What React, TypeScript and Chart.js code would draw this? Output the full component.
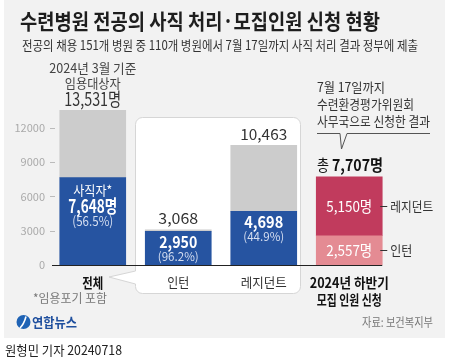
import { useEffect, useRef } from "react";
import { Chart, registerables } from "chart.js";

Chart.register(...registerables);

const categories = ["전체", "인턴", "레지던트", "2024년 하반기 모집 인원 신청"];
const totals = [13531, 3068, 10463, null];
const resigned = [7648, 2950, 4698, null];
const resignedPct = ["56.5%", "96.2%", "44.9%"];
const applyIntern = [null, null, null, 2557];
const applyResident = [null, null, null, 5150];
const applyTotal = 7707;
const yTicks = [0, 3000, 6000, 9000, 12000];

const remainder = totals.map((t, i) => (t == null || resigned[i] == null ? null : (t as number) - (resigned[i] as number)));

const FONT = '"Noto Sans CJK KR", "Noto Sans", sans-serif';
const BLUE = "#2654a1";
const GRAY = "#cccccc";
const PINK_D = "#c13b5d";
const PINK_L = "#e48b93";

function fmt(n: number) {
  return n.toLocaleString("en-US");
}

function drawText(
  ctx: CanvasRenderingContext2D,
  s: string,
  x: number,
  y: number,
  size: number,
  color: string,
  opts: { weight?: number; align?: "left" | "center" | "right"; width?: number } = {}
) {
  const { weight = 400, align = "center", width } = opts;
  ctx.save();
  ctx.font = `${weight} ${size}px ${FONT}`;
  ctx.fillStyle = color;
  ctx.textBaseline = "middle";
  ctx.textAlign = "left";
  const w = ctx.measureText(s).width;
  const sx = width && w > 0 ? width / w : 1;
  const left = align === "center" ? x - (w * sx) / 2 : align === "right" ? x - w * sx : x;
  ctx.translate(left, y);
  ctx.scale(sx, 1);
  ctx.fillText(s, 0, 0);
  ctx.restore();
}

const deco = {
  id: "deco",
  beforeDraw(chart: any) {
    const ctx: CanvasRenderingContext2D = chart.ctx;
    ctx.save();
    ctx.fillStyle = "#ffffff";
    ctx.fillRect(0, 0, chart.width, chart.height);
    ctx.fillStyle = "#f2f2f2";
    ctx.fillRect(4, 0, 441, 338);

    // white callout box
    const L = 135.5, T = 117.5, R = 300.5, B = 293.5, r = 7;
    ctx.beginPath();
    ctx.moveTo(L + r, T);
    ctx.lineTo(R - r, T);
    ctx.arcTo(R, T, R, T + r, r);
    ctx.lineTo(R, B - r);
    ctx.arcTo(R, B, R - r, B, r);
    ctx.lineTo(L + r, B);
    ctx.arcTo(L, B, L, B - r, r);
    ctx.lineTo(L, 284);
    ctx.lineTo(109, 277);
    ctx.lineTo(L, 271);
    ctx.lineTo(L, T + r);
    ctx.arcTo(L, T, L + r, T, r);
    ctx.closePath();
    ctx.fillStyle = "#ffffff";
    ctx.fill();
    ctx.strokeStyle = "#d6d6d6";
    ctx.lineWidth = 1;
    ctx.stroke();
    ctx.restore();

    // title & subtitle
    drawText(ctx, "수련병원 전공의 사직 처리·모집인원 신청 현황", 20, 21, 21, "#1e1e1e", { weight: 700, align: "left", width: 360 });
    drawText(ctx, "전공의 채용 151개 병원 중 110개 병원에서 7월 17일까지 사직 처리 결과 정부에 제출", 22, 45, 13, "#333333", { align: "left", width: 396 });

    // footer
    ctx.save();
    ctx.fillStyle = "#1f63b5";
    ctx.beginPath();
    ctx.arc(23.5, 322, 7, 0, Math.PI * 2);
    ctx.fill();
    ctx.strokeStyle = "#ffffff";
    ctx.lineWidth = 1.6;
    ctx.beginPath();
    ctx.moveTo(26, 316.5);
    ctx.quadraticCurveTo(24, 324, 20, 328);
    ctx.stroke();
    ctx.restore();
    drawText(ctx, "연합뉴스", 32, 322, 13, "#1f4f9e", { weight: 700, align: "left", width: 45 });
    drawText(ctx, "자료: 보건복지부", 433, 322, 12, "#777777", { align: "right", width: 71 });
    drawText(ctx, "원형민 기자 20240718", 5, 350, 13, "#222222", { align: "left", width: 117 });
  },
  afterDatasetsDraw(chart: any) {
    const ctx: CanvasRenderingContext2D = chart.ctx;
    const ys = chart.scales.y;
    const y0 = ys.getPixelForValue(0);
    const cx = (i: number) => chart.getDatasetMeta(0).data[i].x;
    const lastBar = chart.getDatasetMeta(3).data[3];
    const py = (v: number) => ys.getPixelForValue(v);

    // axis line
    ctx.save();
    ctx.strokeStyle = "#222222";
    ctx.lineWidth = 1;
    ctx.beginPath();
    ctx.moveTo(52, Math.round(y0) + 0.5);
    ctx.lineTo(lastBar.x + lastBar.width / 2, Math.round(y0) + 0.5);
    ctx.stroke();
    // tick dashes
    ctx.strokeStyle = "#bbbbbb";
    yTicks.forEach((v) => {
      if (v === 0) return;
      const y = Math.round(py(v)) + 0.5;
      ctx.beginPath();
      ctx.moveTo(50, y);
      ctx.lineTo(55, y);
      ctx.stroke();
    });
    ctx.restore();

    // 전체
    const t0 = py(totals[0] as number);
    drawText(ctx, "2024년 3월 기준", cx(0), t0 - 42, 13, "#444444", { width: 87 });
    drawText(ctx, "임용대상자", cx(0), t0 - 27, 13, "#444444", { width: 56 });
    drawText(ctx, fmt(totals[0] as number) + "명", cx(0), t0 - 11.5, 18, "#333333", { width: 57 });
    const b0 = py(resigned[0] as number);
    drawText(ctx, "사직자*", cx(0), b0 + 12.5, 13, "#ffffff", { width: 39 });
    drawText(ctx, fmt(resigned[0] as number) + "명", cx(0), b0 + 28.5, 18, "#ffffff", { weight: 700, width: 49 });
    drawText(ctx, "(" + resignedPct[0] + ")", cx(0), b0 + 43.5, 13, "#d5def0", { width: 41 });

    // 인턴, 레지던트
    const totalW = [0, 40, 47];
    const valW = [0, 38, 39];
    for (let i = 1; i <= 2; i++) {
      const t = py(totals[i] as number);
      drawText(ctx, fmt(totals[i] as number), cx(i), t - 11.5, 15, "#333333", { width: totalW[i] });
      const b = py(resigned[i] as number);
      drawText(ctx, fmt(resigned[i] as number), cx(i), b + 11, 16, "#ffffff", { weight: 700, width: valW[i] });
      drawText(ctx, "(" + resignedPct[i] + ")", cx(i), b + 25, 12, "#d5def0", { width: 41 });
    }

    // category labels
    drawText(ctx, "전체", cx(0), y0 + 18, 14, "#111111", { weight: 700, width: 21 });
    drawText(ctx, "*임용포기 포함", 33, y0 + 33, 12, "#777777", { align: "left", width: 74 });
    drawText(ctx, "인턴", cx(1), y0 + 17, 13, "#333333", { width: 22 });
    drawText(ctx, "레지던트", cx(2), y0 + 17, 13, "#333333", { width: 46 });
    drawText(ctx, "2024년 하반기", cx(3), y0 + 18, 14, "#111111", { weight: 700, width: 79 });
    drawText(ctx, "모집 인원 신청", cx(3), y0 + 35, 14, "#111111", { weight: 700, width: 65 });

    // right stacked bar labels
    const xi = cx(3);
    const iTop = py(applyIntern[3] as number);
    const rTop = py((applyIntern[3] as number) + (applyResident[3] as number));
    const iMid = (y0 + iTop) / 2;
    const rMid = (iTop + rTop) / 2;
    drawText(ctx, fmt(applyResident[3] as number) + "명", xi, rMid, 15, "#ffffff", { width: 46 });
    drawText(ctx, fmt(applyIntern[3] as number) + "명", xi, iMid, 15, "#ffffff", { width: 46 });
    const rx = lastBar.x + lastBar.width / 2;
    ctx.save();
    ctx.strokeStyle = "#333333";
    ctx.lineWidth = 1;
    [rMid, iMid].forEach((y) => {
      ctx.beginPath();
      ctx.moveTo(rx - 2, Math.round(y) + 0.5);
      ctx.lineTo(rx + 5, Math.round(y) + 0.5);
      ctx.stroke();
    });
    ctx.restore();
    drawText(ctx, "레지던트", rx + 8, rMid, 13, "#333333", { align: "left", width: 43 });
    drawText(ctx, "인턴", rx + 8, iMid, 13, "#333333", { align: "left", width: 22 });

    const tTop = py(applyTotal);
    drawText(ctx, "총", 317, tTop - 12, 16, "#111111", { align: "left", width: 12 });
    drawText(ctx, fmt(applyTotal) + "명", 332, tTop - 12, 16, "#111111", { weight: 700, align: "left", width: 51 });

    // annotation
    drawText(ctx, "7월 17일까지", 317, 87, 13, "#333333", { align: "left", width: 68 });
    drawText(ctx, "수련환경평가위원회", 317, 104, 13, "#333333", { align: "left", width: 97 });
    drawText(ctx, "사무국으로 신청한 결과", 317, 121, 13, "#333333", { align: "left", width: 113 });
    ctx.save();
    ctx.strokeStyle = "#555555";
    ctx.lineWidth = 1;
    ctx.beginPath();
    ctx.moveTo(317, 133.5);
    ctx.lineTo(340, 133.5);
    ctx.lineTo(341.5, 149);
    ctx.lineTo(347, 133.5);
    ctx.lineTo(430, 133.5);
    ctx.stroke();
    ctx.restore();
  },
};

export default function App() {
  const ref = useRef<HTMLCanvasElement | null>(null);
  useEffect(() => {
    if (!ref.current) return;
    const chart = new Chart(ref.current, {
      type: "bar",
      data: {
        labels: categories,
        datasets: [
          { label: "사직자", data: resigned as any, backgroundColor: BLUE, stack: "s", barThickness: 66 },
          { label: "임용대상자", data: remainder as any, backgroundColor: GRAY, stack: "s", barThickness: 66 },
          { label: "인턴 신청", data: applyIntern as any, backgroundColor: PINK_L, stack: "s", barThickness: 66 },
          { label: "레지던트 신청", data: applyResident as any, backgroundColor: PINK_D, stack: "s", barThickness: 66 },
        ],
      },
      options: {
        animation: false,
        responsive: false,
        devicePixelRatio: 1,
        layout: { padding: { left: 0, right: 58, top: 105, bottom: 97 } },
        plugins: { legend: { display: false }, tooltip: { enabled: false } },
        scales: {
          x: {
            stacked: true,
            grid: { display: false, drawTicks: false },
            border: { display: false },
            ticks: { display: false },
            afterFit: (s: any) => {
              s.height = 0;
            },
          },
          y: {
            stacked: true,
            min: 0,
            max: 14000,
            grid: { display: false, drawTicks: false },
            border: { display: false },
            ticks: {
              color: "#aaaaaa",
              font: { size: 11, family: FONT },
              padding: 5,
              callback: (v: any) => String(v),
            },
            afterBuildTicks: (s: any) => {
              s.ticks = yTicks.map((v) => ({ value: v }));
            },
            afterFit: (s: any) => {
              s.width = 50;
            },
          },
        },
      },
      plugins: [deco],
    });
    return () => chart.destroy();
  }, []);
  return (
    <div style={{ position: "fixed", left: 0, top: 0, width: 450, height: 362 }}>
      <canvas ref={ref} width={450} height={362} style={{ display: "block" }} />
    </div>
  );
}
